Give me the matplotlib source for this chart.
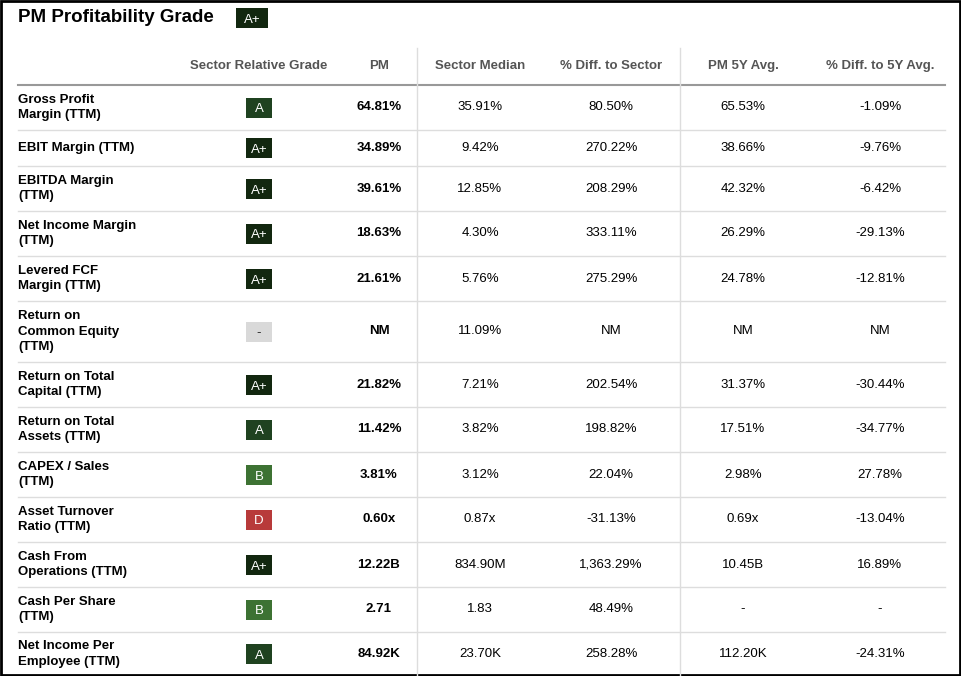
import matplotlib.pyplot as plt
from matplotlib.patches import Rectangle

plt.rcParams["font.family"] = "Liberation Sans"

title = "PM Profitability Grade"
overall_grade = "A+"
columns = ["Sector Relative Grade", "PM", "Sector Median", "% Diff. to Sector",
           "PM 5Y Avg.", "% Diff. to 5Y Avg."]
metrics = ["Gross Profit\nMargin (TTM)", "EBIT Margin (TTM)", "EBITDA Margin\n(TTM)",
           "Net Income Margin\n(TTM)", "Levered FCF\nMargin (TTM)",
           "Return on\nCommon Equity\n(TTM)", "Return on Total\nCapital (TTM)",
           "Return on Total\nAssets (TTM)", "CAPEX / Sales\n(TTM)",
           "Asset Turnover\nRatio (TTM)", "Cash From\nOperations (TTM)",
           "Cash Per Share\n(TTM)", "Net Income Per\nEmployee (TTM)"]
grades = ["A", "A+", "A+", "A+", "A+", "-", "A+", "A", "B", "D", "A+", "B", "A"]
pm_values = ["64.81%", "34.89%", "39.61%", "18.63%", "21.61%", "NM", "21.82%",
             "11.42%", "3.81%", "0.60x", "12.22B", "2.71", "84.92K"]
sector_median = ["35.91%", "9.42%", "12.85%", "4.30%", "5.76%", "11.09%", "7.21%",
                 "3.82%", "3.12%", "0.87x", "834.90M", "1.83", "23.70K"]
diff_sector = ["80.50%", "270.22%", "208.29%", "333.11%", "275.29%", "NM", "202.54%",
               "198.82%", "22.04%", "-31.13%", "1,363.29%", "48.49%", "258.28%"]
pm_5y = ["65.53%", "38.66%", "42.32%", "26.29%", "24.78%", "NM", "31.37%",
         "17.51%", "2.98%", "0.69x", "10.45B", "-", "112.20K"]
diff_5y = ["-1.09%", "-9.76%", "-6.42%", "-29.13%", "-12.81%", "NM", "-30.44%",
           "-34.77%", "27.78%", "-13.04%", "16.89%", "-", "-24.31%"]

grade_colors = {"A+": "#12270f", "A": "#1f4220", "B": "#3d7233", "D": "#b83a3a", "-": "#d9d9d9"}

fig = plt.figure(figsize=(9.61, 6.76), dpi=100)
ax = fig.add_axes([0, 0, 1, 1])
ax.set_xlim(0, 961)
ax.set_ylim(676, 0)
ax.axis("off")

ax.add_patch(Rectangle((1, 1), 959, 674, fill=False, edgecolor="black", lw=2))


def badge(x, y, g, w=26):
    ax.add_patch(Rectangle((x - w / 2, y - 10), w, 20, color=grade_colors[g], lw=0))
    ax.text(x, y + 0.5, g, ha="center", va="center_baseline", fontsize=9.5,
            color="#222" if g == "-" else "white")


ax.text(18, 17, title, fontsize=13.5, fontweight="bold", va="center")
badge(252, 18, overall_grade, w=32)

col_x = [259, 379, 480, 611, 743, 880]
for cx, name in zip(col_x, columns):
    ax.text(cx, 66, name, ha="center", va="center", fontsize=9.5, color="#555555", fontweight="bold")

bounds = [85, 130, 166, 211, 256, 301, 362, 407, 452, 497, 542, 587, 632, 676]
ax.plot([18, 945], [85, 85], color="#999999", lw=1.5)
for b in bounds[1:-1]:
    ax.plot([18, 945], [b, b], color="#dddddd", lw=1)
for vx in (417, 680):
    ax.plot([vx, vx], [48, 676], color="#dddddd", lw=1)

for i, m in enumerate(metrics):
    y = (bounds[i] + bounds[i + 1]) / 2
    ax.text(18, y, m, va="center", fontsize=9.5, fontweight="bold", linespacing=1.4)
    badge(col_x[0], y, grades[i])
    ax.text(col_x[1], y, pm_values[i], ha="center", va="center", fontsize=9.5, fontweight="bold")
    for cx, vals in zip(col_x[2:], [sector_median, diff_sector, pm_5y, diff_5y]):
        ax.text(cx, y, vals[i], ha="center", va="center", fontsize=9.5)

fig.savefig("out.png", dpi=100)
